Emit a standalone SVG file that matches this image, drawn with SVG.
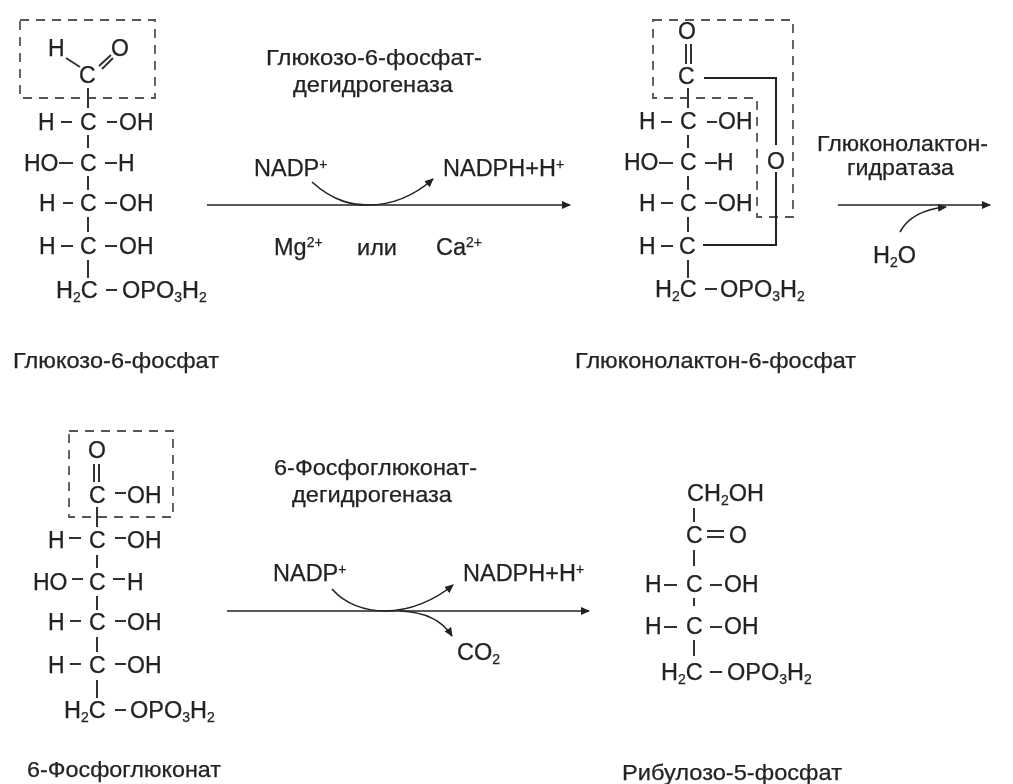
<svg xmlns="http://www.w3.org/2000/svg" width="1013" height="784" viewBox="0 0 1013 784">
<defs>
<marker id="arr" markerUnits="userSpaceOnUse" markerWidth="10" markerHeight="10" refX="8" refY="5" orient="auto"><path d="M0,1 L9,5 L0,9 Z" fill="#222"/></marker>
<filter id="soft" x="-2%" y="-2%" width="104%" height="104%"><feGaussianBlur stdDeviation="0.5"/></filter>
</defs>
<style>
text{font-family:"Liberation Sans",Arial,sans-serif;fill:#222;stroke:#222;stroke-width:.25}
.a{font-size:23px;transform:translate(-1px,0)}
.f{font-size:23.5px}
.l{font-size:22px}
.s{font-size:14px}
.b{stroke:#333;stroke-width:2;fill:none}
.d{stroke:#555;stroke-width:1.8;fill:none;stroke-dasharray:9 7}
.r{stroke:#222;stroke-width:2;fill:none}
.c{stroke:#222;stroke-width:1.6;fill:none}
</style>
<rect width="1013" height="784" fill="#fff"/>
<g filter="url(#soft)">
<g id="glucose6p">
<rect class="d" x="20" y="20" width="135" height="78"/>
<path class="b" d="M66,58L80,67M99,66L111,55M102,69L113,58M88,88V108M88,135V148M88,176V190M88,217V232M88,260V278M61,122H72M107,122H117M59,163H73M105,163H117M63,203H73M105,203H117M61,246H73M105,246H117M106,290H117"/>
<text class="a" x="49" y="56">H</text><text class="a" x="112" y="56">O</text><text class="a" x="80" y="83">C</text>
<text class="a" x="39" y="130">H</text><text class="a" x="81" y="130">C</text><text class="a" x="120" y="130">OH</text>
<text class="a" x="25" y="171">HO</text><text class="a" x="81" y="171">C</text><text class="a" x="119" y="171">H</text>
<text class="a" x="40" y="211">H</text><text class="a" x="81" y="211">C</text><text class="a" x="120" y="211">OH</text>
<text class="a" x="40" y="254">H</text><text class="a" x="81" y="254">C</text><text class="a" x="120" y="254">OH</text>
<text class="f" x="56" y="298">H<tspan class="s" dy="4">2</tspan><tspan dy="-4">C</tspan></text>
<text class="f" x="122" y="298">OPO<tspan class="s" dy="4">3</tspan><tspan dy="-4">H</tspan><tspan class="s" dy="4">2</tspan></text>
<text class="l" x="13" y="368" textLength="206" lengthAdjust="spacingAndGlyphs">Глюкозо-6-фосфат</text>
</g>
<g id="gluconolactone6p">
<path class="d" d="M653,20H793V217H757V98H653Z"/>
<path class="b" d="M686,44V64M691,44V64M688,88V108M688,135V148M688,176V190M688,217V232M688,260V278M661,122H672M707,122H717M659,163H673M705,163H717M661,203H673M705,203H717M661,246H673M705,289H717"/>
<path class="r" d="M704,78H776V145M776,172V245H703"/>
<text class="a" x="679" y="39">O</text><text class="a" x="679" y="84">C</text>
<text class="a" x="640" y="129">H</text><text class="a" x="681" y="129">C</text><text class="a" x="719" y="129">OH</text>
<text class="a" x="625" y="170">HO</text><text class="a" x="681" y="170">C</text><text class="a" x="718" y="170">H</text>
<text class="a" x="640" y="211">H</text><text class="a" x="681" y="211">C</text><text class="a" x="719" y="211">OH</text>
<text class="a" x="640" y="254">H</text><text class="a" x="680" y="254">C</text>
<text class="a" x="768" y="169">O</text>
<text class="f" x="655" y="297">H<tspan class="s" dy="4">2</tspan><tspan dy="-4">C</tspan></text>
<text class="f" x="720" y="297">OPO<tspan class="s" dy="4">3</tspan><tspan dy="-4">H</tspan><tspan class="s" dy="4">2</tspan></text>
<text class="l" x="575" y="368" textLength="281" lengthAdjust="spacingAndGlyphs">Глюконолактон-6-фосфат</text>
</g>
<g id="phosphogluconate6">
<rect class="d" x="69" y="431" width="104" height="86"/>
<path class="b" d="M94,464V482M99,464V482M97,507V527M97,555V568M97,596V610M97,637V652M97,680V698M69,538H81M115,538H126M72,579H83M113,579H125M70,621H81M115,621H126M70,664H81M115,664H126M115,710H126M115,493H126"/>
<text class="a" x="89" y="458">O</text><text class="a" x="90" y="503">C</text><text class="a" x="128" y="503">OH</text>
<text class="a" x="49" y="548">H</text><text class="a" x="90" y="548">C</text><text class="a" x="128" y="548">OH</text>
<text class="a" x="34" y="590">HO</text><text class="a" x="90" y="590">C</text><text class="a" x="128" y="590">H</text>
<text class="a" x="49" y="630">H</text><text class="a" x="90" y="630">C</text><text class="a" x="128" y="630">OH</text>
<text class="a" x="49" y="673">H</text><text class="a" x="90" y="673">C</text><text class="a" x="128" y="673">OH</text>
<text class="f" x="64" y="718">H<tspan class="s" dy="4">2</tspan><tspan dy="-4">C</tspan></text>
<text class="f" x="130" y="718">OPO<tspan class="s" dy="4">3</tspan><tspan dy="-4">H</tspan><tspan class="s" dy="4">2</tspan></text>
<text class="l" x="27" y="777" textLength="194" lengthAdjust="spacingAndGlyphs">6-Фосфоглюконат</text>
</g>
<g id="ribulose5p">
<path class="b" d="M694,508V522M694,550V566M694,598V606M694,640V656M664,585H677M710,585H722M664,627H677M710,627H722M707,531H724M707,537H724M710,672H722"/>
<text class="f" x="687" y="501">CH<tspan class="s" dy="4">2</tspan><tspan dy="-4">OH</tspan></text>
<text class="a" x="687" y="543">C</text><text class="a" x="730" y="543">O</text>
<text class="a" x="646" y="592">H</text><text class="a" x="687" y="592">C</text><text class="a" x="725" y="592">OH</text>
<text class="a" x="646" y="634">H</text><text class="a" x="687" y="634">C</text><text class="a" x="725" y="634">OH</text>
<text class="f" x="661" y="680">H<tspan class="s" dy="4">2</tspan><tspan dy="-4">C</tspan></text>
<text class="f" x="727" y="680">OPO<tspan class="s" dy="4">3</tspan><tspan dy="-4">H</tspan><tspan class="s" dy="4">2</tspan></text>
<text class="l" x="622" y="780" textLength="220" lengthAdjust="spacingAndGlyphs">Рибулозо-5-фосфат</text>
</g>
<g id="enzyme1">
<text class="l" x="266" y="65" textLength="216" lengthAdjust="spacingAndGlyphs">Глюкозо-6-фосфат-</text>
<text class="l" x="293" y="92" textLength="160" lengthAdjust="spacingAndGlyphs">дегидрогеназа</text>
<text class="f" x="254" y="176">NADP<tspan class="s" dy="-7">+</tspan></text>
<text class="f" x="443" y="176">NADPH+H<tspan class="s" dy="-7">+</tspan></text>
<text class="f" x="274" y="255">Mg<tspan class="s" dy="-8">2+</tspan></text>
<text class="l" x="357" y="255" textLength="40" lengthAdjust="spacingAndGlyphs">или</text>
<text class="f" x="436" y="255">Ca<tspan class="s" dy="-8">2+</tspan></text>
</g>
<g id="enzyme2">
<text class="l" x="817" y="151" textLength="171" lengthAdjust="spacingAndGlyphs">Глюконолактон-</text>
<text class="l" x="847" y="175" textLength="107" lengthAdjust="spacingAndGlyphs">гидратаза</text>
<text class="f" x="873" y="263">H<tspan class="s" dy="4">2</tspan><tspan dy="-4">O</tspan></text>
</g>
<g id="enzyme3">
<text class="l" x="274" y="475" textLength="203" lengthAdjust="spacingAndGlyphs">6-Фосфоглюконат-</text>
<text class="l" x="292" y="502" textLength="160" lengthAdjust="spacingAndGlyphs">дегидрогеназа</text>
<text class="f" x="273" y="581">NADP<tspan class="s" dy="-7">+</tspan></text>
<text class="f" x="463" y="581">NADPH+H<tspan class="s" dy="-7">+</tspan></text>
<text class="f" x="457" y="660">CO<tspan class="s" dy="4">2</tspan></text>
</g>
<g id="connectors">
<path class="c" marker-end="url(#arr)" d="M207,205H570"/>
<path class="c" marker-end="url(#arr)" d="M312,182C335,203 355,205 368,205C395,205 415,195 433,179"/>
<path class="c" marker-end="url(#arr)" d="M838,205H990"/>
<path class="c" marker-end="url(#arr)" d="M900,232C908,217 925,209 946,207"/>
<path class="c" marker-end="url(#arr)" d="M227,611H589"/>
<path class="c" marker-end="url(#arr)" d="M332,589C345,604 365,611 385,611C410,611 435,600 453,585"/>
<path class="c" marker-end="url(#arr)" d="M400,611C425,612 442,620 452,636"/>
</g>
</g>
</svg>
